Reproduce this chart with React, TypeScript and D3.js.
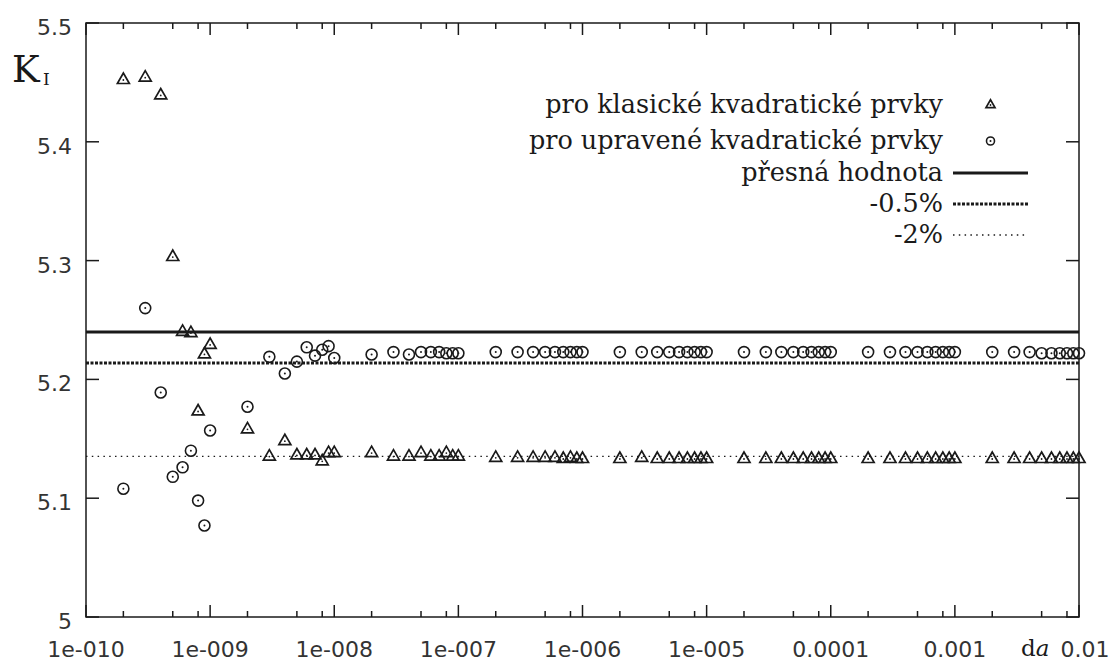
import React from 'react';
import * as d3 from 'd3';

// krok da (log osa x)
const daValues = [
  2e-10, 3e-10, 4e-10, 5e-10, 6e-10, 7e-10, 8e-10, 9e-10,
  1e-9, 2e-9, 3e-9, 4e-9, 5e-9, 6e-9, 7e-9, 8e-9, 9e-9,
  1e-8, 2e-8, 3e-8, 4e-8, 5e-8, 6e-8, 7e-8, 8e-8, 9e-8,
  1e-7, 2e-7, 3e-7, 4e-7, 5e-7, 6e-7, 7e-7, 8e-7, 9e-7,
  1e-6, 2e-6, 3e-6, 4e-6, 5e-6, 6e-6, 7e-6, 8e-6, 9e-6,
  1e-5, 2e-5, 3e-5, 4e-5, 5e-5, 6e-5, 7e-5, 8e-5, 9e-5,
  1e-4, 2e-4, 3e-4, 4e-4, 5e-4, 6e-4, 7e-4, 8e-4, 9e-4,
  1e-3, 2e-3, 3e-3, 4e-3, 5e-3, 6e-3, 7e-3, 8e-3, 9e-3,
  1e-2,
];

// K_I pro klasické kvadratické prvky
const klasicke = [
  5.452, 5.454, 5.439, 5.303, 5.240, 5.239, 5.173, 5.221,
  5.229, 5.158, 5.135, 5.148, 5.136, 5.136, 5.136, 5.131, 5.138,
  5.138, 5.138, 5.135, 5.135, 5.138, 5.135, 5.135, 5.138, 5.135,
  5.135, 5.134, 5.134, 5.134, 5.134, 5.134, 5.133, 5.134, 5.133,
  5.133, 5.133, 5.134, 5.133, 5.133, 5.133, 5.133, 5.133, 5.133,
  5.133, 5.133, 5.133, 5.133, 5.133, 5.133, 5.133, 5.133, 5.133,
  5.133, 5.133, 5.133, 5.133, 5.133, 5.133, 5.133, 5.133, 5.133,
  5.133, 5.133, 5.133, 5.133, 5.133, 5.133, 5.133, 5.133, 5.133,
  5.133,
];

// K_I pro upravené kvadratické prvky
const upravene = [
  5.108, 5.260, 5.189, 5.118, 5.126, 5.140, 5.098, 5.077,
  5.157, 5.177, 5.219, 5.205, 5.215, 5.227, 5.220, 5.225, 5.228,
  5.218, 5.221, 5.223, 5.221, 5.223, 5.223, 5.223, 5.222, 5.222,
  5.222, 5.223, 5.223, 5.223, 5.223, 5.223, 5.223, 5.223, 5.223,
  5.223, 5.223, 5.223, 5.223, 5.223, 5.223, 5.223, 5.223, 5.223,
  5.223, 5.223, 5.223, 5.223, 5.223, 5.223, 5.223, 5.223, 5.223,
  5.223, 5.223, 5.223, 5.223, 5.223, 5.223, 5.223, 5.223, 5.223,
  5.223, 5.223, 5.223, 5.223, 5.222, 5.222, 5.222, 5.222, 5.222,
  5.222,
];

const exactValue = 5.24;
const refLines = [
  { label: 'přesná hodnota', value: exactValue, width: 3, dash: 'none' },
  { label: '-0.5%', value: exactValue * 0.995, width: 3, dash: '3 1.5' },
  { label: '-2%', value: exactValue * 0.98, width: 1.3, dash: '1.5 4.3' },
];

const xMajorTicks = [1e-10, 1e-9, 1e-8, 1e-7, 1e-6, 1e-5, 1e-4, 1e-3, 1e-2];
const xTickLabels = ['1e-010', '1e-009', '1e-008', '1e-007', '1e-006', '1e-005', '0.0001', '0.001', '0.01'];
const minorMantissa = [2, 5, 8];
const yTicks = [5, 5.1, 5.2, 5.3, 5.4, 5.5];
const yTickLabels = ['5', '5.1', '5.2', '5.3', '5.4', '5.5'];

const W = 1110;
const H = 663;
const m = { left: 86, right: 1079, top: 23, bottom: 617 };
const ink = '#1a1a1a';
const serif = "'DejaVu Serif', 'Liberation Serif', serif";
const sans = "'DejaVu Sans', sans-serif";

function Triangle({ x, y, s }: { x: number; y: number; s: number }) {
  const h = s * 0.87;
  const path = `M${x - s / 2},${y + h / 3}L${x + s / 2},${y + h / 3}L${x},${y - (2 * h) / 3}Z`;
  return (
    <g>
      <path d={path} fill="none" stroke={ink} strokeWidth={1.7} strokeLinejoin="miter" />
      <circle cx={x} cy={y} r={0.9} fill={ink} />
    </g>
  );
}

function Ring({ x, y, r }: { x: number; y: number; r: number }) {
  return (
    <g>
      <circle cx={x} cy={y} r={r} fill="none" stroke={ink} strokeWidth={1.6} />
      <circle cx={x} cy={y} r={1} fill={ink} />
    </g>
  );
}

export default function App() {
  const x = d3.scaleLog().domain([1e-10, 1e-2]).range([m.left, m.right]);
  const y = d3.scaleLinear().domain([5, 5.5]).range([m.bottom, m.top]);

  const minorTicks: number[] = [];
  xMajorTicks.slice(0, -1).forEach((t) => minorMantissa.forEach((k) => minorTicks.push(t * k)));

  const legendRows = [105, 141, 173, 204, 235];
  const textRight = 943;
  const sampleX0 = 953;
  const sampleX1 = 1028;
  const sampleMid = (sampleX0 + sampleX1) / 2;
  const legendSize = 25.5;

  return (
    <svg
      width={W}
      height={H}
      style={{ position: 'absolute', left: 0, top: 0, background: '#fff' }}
    >
      {/* referenční čáry */}
      {refLines.map((l) => (
        <line
          key={l.label}
          x1={m.left}
          x2={m.right}
          y1={y(l.value)}
          y2={y(l.value)}
          stroke={ink}
          strokeWidth={l.width}
          strokeDasharray={l.dash}
        />
      ))}

      {/* body */}
      {daValues.map((d, i) => (
        <Triangle key={'t' + i} x={x(d)} y={y(klasicke[i])} s={12} />
      ))}
      {daValues.map((d, i) => (
        <Ring key={'c' + i} x={x(d)} y={y(upravene[i])} r={5.5} />
      ))}

      {/* rámeček */}
      <rect
        x={m.left}
        y={m.top}
        width={m.right - m.left}
        height={m.bottom - m.top}
        fill="none"
        stroke={ink}
        strokeWidth={1.5}
      />

      {/* ticky x */}
      {xMajorTicks.map((t) => (
        <g key={'xm' + t}>
          <line x1={x(t)} x2={x(t)} y1={m.bottom} y2={m.bottom - 12} stroke={ink} strokeWidth={1.5} />
          <line x1={x(t)} x2={x(t)} y1={m.top} y2={m.top + 12} stroke={ink} strokeWidth={1.5} />
        </g>
      ))}
      {minorTicks.map((t) => (
        <g key={'xn' + t}>
          <line x1={x(t)} x2={x(t)} y1={m.bottom} y2={m.bottom - 6} stroke={ink} strokeWidth={1.5} />
          <line x1={x(t)} x2={x(t)} y1={m.top} y2={m.top + 6} stroke={ink} strokeWidth={1.5} />
        </g>
      ))}
      {xMajorTicks.map((t, i) => (
        <text
          key={'xl' + t}
          x={i === xMajorTicks.length - 1 ? x(t) + 6 : x(t)}
          y={657}
          textAnchor="middle"
          fontFamily={sans}
          fontSize={22}
          fill="#333"
        >
          {xTickLabels[i]}
        </text>
      ))}

      {/* ticky y */}
      {yTicks.map((t, i) => (
        <g key={'y' + t}>
          <line x1={m.left} x2={m.left + 13} y1={y(t)} y2={y(t)} stroke={ink} strokeWidth={1.5} />
          <line x1={m.right} x2={m.right - 13} y1={y(t)} y2={y(t)} stroke={ink} strokeWidth={1.5} />
          <text
            x={72}
            y={y(t) + 12}
            textAnchor="end"
            fontFamily={sans}
            fontSize={22}
            fill="#333"
          >
            {yTickLabels[i]}
          </text>
        </g>
      ))}

      {/* popisky os */}
      <text x={12} y={82} fontFamily={serif} fontSize={37} fill={ink}>
        K
      </text>
      <text x={43} y={85} fontFamily={serif} fontSize={17} fill={ink}>
        I
      </text>
      <text x={1021} y={656} fontFamily={serif} fontSize={23} fill={ink}>
        d<tspan fontStyle="italic">a</tspan>
      </text>

      {/* legenda */}
      <text x={textRight} y={legendRows[0] + 8} fontFamily={serif} fontSize={legendSize} fill={ink} textAnchor="end">
        pro klasické kvadratické prvky
      </text>
      <text x={textRight} y={legendRows[1] + 8} fontFamily={serif} fontSize={legendSize} fill={ink} textAnchor="end">
        pro upravené kvadratické prvky
      </text>
      {refLines.map((l, i) => (
        <text
          key={'lt' + i}
          x={textRight}
          y={legendRows[i + 2] + 8}
          fontFamily={serif}
          fontSize={legendSize}
          fill={ink}
          textAnchor="end"
        >
          {l.label}
        </text>
      ))}
      <Triangle x={sampleMid} y={legendRows[0]} s={9} />
      <Ring x={sampleMid} y={legendRows[1]} r={4} />
      {refLines.map((l, i) => (
        <line
          key={'ls' + i}
          x1={sampleX0}
          x2={sampleX1}
          y1={legendRows[i + 2]}
          y2={legendRows[i + 2]}
          stroke={ink}
          strokeWidth={l.width}
          strokeDasharray={l.dash}
        />
      ))}
    </svg>
  );
}
